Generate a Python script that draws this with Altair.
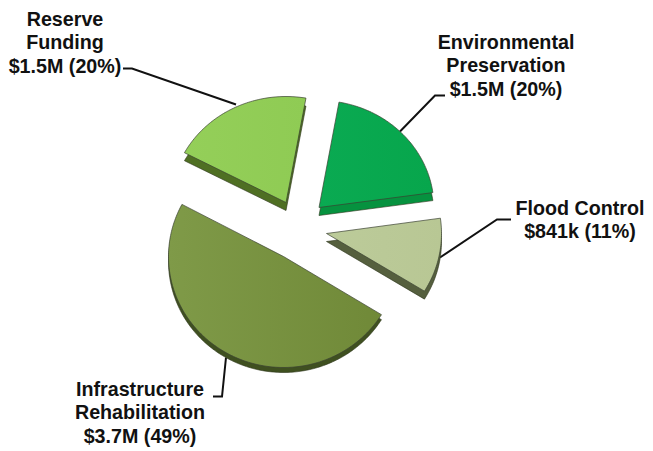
import math
import altair as alt
import pandas as pd

names = ["Environmental Preservation", "Flood Control", "Infrastructure Rehabilitation", "Reserve Funding"]
shares = [20, 11, 49, 20]
label_text = [
    "Environmental\nPreservation\n$1.5M (20%)",
    "Flood Control\n$841k (11%)",
    "Infrastructure\nRehabilitation\n$3.7M (49%)",
    "Reserve\nFunding\n$1.5M (20%)",
]
top_left = ["#0AAA52", "#BCCB9A", "#7F9A48", "#94CF59"]
top_right = ["#07A64C", "#B8C794", "#708938", "#8FCB54"]
side_colors = ["#06923F", "#555F3E", "#3F5020", "#4F6F23"]
apex_x = [319, 326.5, 283.5, 286]
apex_y = [208, 234, 257, 203]
radius_y = [107, 110, 111, 106]
depth = [8, 8, 5, 8]
label_x = [506, 580, 140, 65]
label_y = [43, 209, 390, 20]
leader_x = [[400, 435, 445], [440, 497, 511], [226, 222, 213], [236, 132, 123]]
leader_y = [[132, 96, 96], [258, 220, 220], [358, 397, 397], [105, 69, 69]]

START_DEG = 10
RX = 115
X_DOMAIN = [8, 645]
Y_DOMAIN = [8.5, 451.5]

rows = []
start = START_DEG
for i, name in enumerate(names):
    sweep = 360 * shares[i] / sum(shares)
    n = max(2, int(sweep))
    pts = [(apex_x[i], apex_y[i])]
    for k in range(n + 1):
        t = math.radians(start + sweep * k / n)
        pts.append((apex_x[i] + RX * math.sin(t), apex_y[i] - radius_y[i] * math.cos(t)))
    for j, (px, py) in enumerate(pts):
        rows.append({"name": name, "o": j, "x": px, "y": py, "ys": py + depth[i]})
    start += sweep
df = pd.DataFrame(rows)

lead = pd.DataFrame([
    {"name": names[i], "o": j, "x": lx, "y": ly}
    for i in range(4)
    for j, (lx, ly) in enumerate(zip(leader_x[i], leader_y[i]))
])
labels = pd.DataFrame({"t": label_text, "x": label_x, "y": label_y})

X = alt.X("x:Q", scale=alt.Scale(domain=X_DOMAIN, nice=False, zero=False), axis=None)
Y = alt.Y("y:Q", scale=alt.Scale(domain=Y_DOMAIN, reverse=True, nice=False, zero=False), axis=None)
Ys = alt.Y("ys:Q", scale=alt.Scale(domain=Y_DOMAIN, reverse=True, nice=False, zero=False), axis=None)

layers = []
lead_layer = alt.Chart(lead).mark_line(color="#111111", strokeWidth=2).encode(
    x=X, y=Y, detail="name:N", order="o:Q")
layers.append(lead_layer)
for i, name in enumerate(names):
    d = df[df.name == name]
    layers.append(alt.Chart(d).mark_line(
        interpolate="linear-closed", fill=side_colors[i], stroke="#2A3318", strokeWidth=0.6
    ).encode(x=X, y=Ys, order="o:Q"))
    grad = alt.LinearGradient(
        gradient="linear", x1=0, y1=0, x2=1, y2=0,
        stops=[alt.GradientStop(color=top_left[i], offset=0),
               alt.GradientStop(color=top_right[i], offset=1)],
    )
    layers.append(alt.Chart(d).mark_line(
        interpolate="linear-closed", fill=grad, stroke="#3A4030", strokeWidth=0.7
    ).encode(x=X, y=Y, order="o:Q"))
text_layer = alt.Chart(labels).mark_text(
    font="Liberation Sans", fontWeight="bold", fontSize=19.7, lineHeight=23.5,
    lineBreak="\n", align="center", baseline="middle", color="#111111"
).encode(x=X, y=Y, text="t:N")
layers.append(text_layer)

chart = alt.layer(*layers).properties(width=637, height=443, padding=0, background="white").configure_view(stroke=None)
chart.save("out.html", embed_options={"renderer": "svg", "actions": False})
